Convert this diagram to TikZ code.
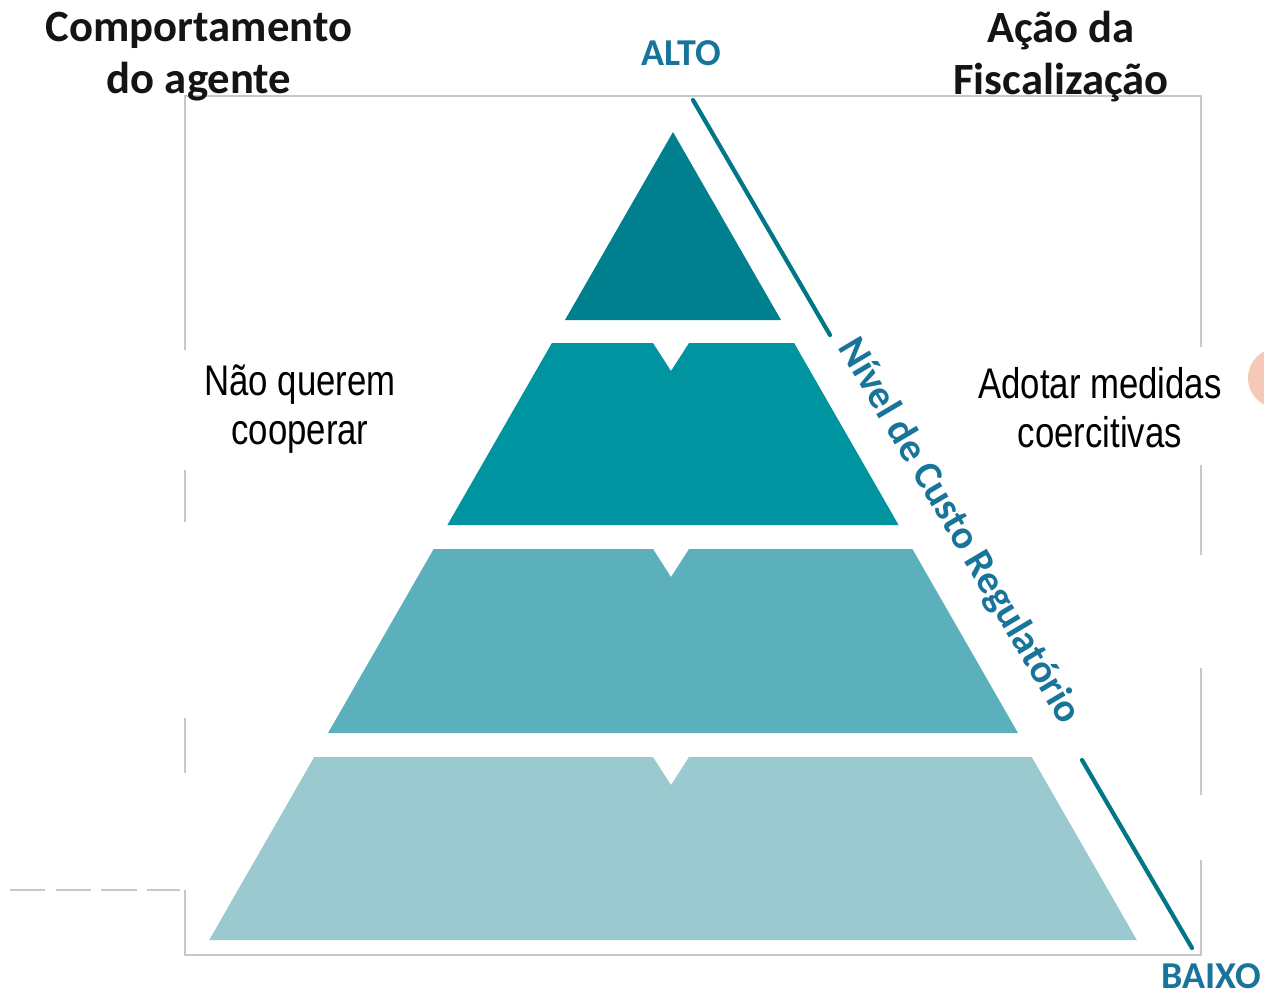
\documentclass[tikz,border=0pt]{standalone}
\usepackage{fontspec}
\setmainfont{Carlito}
\newfontfamily\narrowfont[FakeStretch=0.81]{Liberation Sans}
\usetikzlibrary{calc}

\definecolor{tealA}{RGB}{0,127,143}
\definecolor{tealB}{RGB}{0,147,160}
\definecolor{tealC}{RGB}{91,176,187}
\definecolor{tealD}{RGB}{154,201,207}
\definecolor{costline}{RGB}{0,118,135}
\definecolor{costtext}{RGB}{24,116,155}
\definecolor{framegray}{RGB}{200,200,200}
\definecolor{blobpink}{RGB}{246,200,184}

\begin{document}
\begin{tikzpicture}[x=0.01cm,y=-0.01cm,
	heading/.style={font=\fontsize{12.7}{14.8}\selectfont\bfseries, align=center, text=black!92, inner sep=0pt},
	levelword/.style={font=\fontsize{10.8}{12}\selectfont\bfseries, text=costtext, inner sep=0pt},
	agentnote/.style={font=\narrowfont\fontsize{12.2}{13.9}\selectfont, align=center, inner sep=0pt},
	frameline/.style={draw=framegray, line width=0.5pt},
	costrule/.style={draw=costline, line width=1.2pt, line cap=round}]
	\useasboundingbox (0,0) rectangle (1264,993);
	% frame, broken where the old text boxes covered it
	\draw[frameline] (185,350) -- (185,96) -- (1201,96) -- (1201,347)
		(185,470) -- (185,522) (185,718) -- (185,773) (185,890) -- (185,955) -- (1201,955) -- (1201,860)
		(1201,465) -- (1201,555) (1201,668) -- (1201,795);
	\draw[frameline, dash pattern=on 10pt off 3pt] (10,890) -- (180,890);
	\begin{scope}
		\clip (0,0) rectangle (1264,993);
		\fill[blobpink] (1278,378) circle (30);
	\end{scope}
	% pyramid
	\fill[tealA] (565,320) -- (673,132) -- (781,320) -- cycle;
	\foreach \yt/\yb/\col in {343/525/tealB, 549/733/tealC, 757/940/tealD}{
		\fill[\col] ({673-0.574*(\yb-132)},\yb) -- ({673-0.574*(\yt-132)},\yt) -- (653,\yt) -- (671,{\yt+28})
			-- (689,\yt) -- ({673+0.574*(\yt-132)},\yt) -- ({673+0.574*(\yb-132)},\yb) -- cycle;
	}
	% cost axis
	\coordinate (costtop) at (693,100);
	\coordinate (costupper) at (830,335);
	\coordinate (costlower) at (1082,760);
	\coordinate (costbottom) at (1192,948);
	\draw[costrule] (costtop) -- (costupper);
	\draw[costrule] (costlower) -- (costbottom);
	\path (costupper) -- node[pos=0.475, sloped, anchor=base, levelword, font=\fontsize{11.4}{12}\selectfont\bfseries] {Nível de Custo Regulatório} (costlower);
	\node[levelword] (alto) at (681,53) {ALTO};
	\node[levelword] (baixo) at (1211,976) {BAIXO};
	% headings
	\node[heading] (agente) at (199,57) {Comportamento\\do agente};
	\node[heading] (fiscal) at (1061,57) {Ação da\\Fiscalização};
	\node[agentnote] (naocoop) at (300,409) {Não querem\\cooperar};
	\node[agentnote] (coerc) at (1100,408) {Adotar medidas\\coercitivas};
\end{tikzpicture}
\end{document}
